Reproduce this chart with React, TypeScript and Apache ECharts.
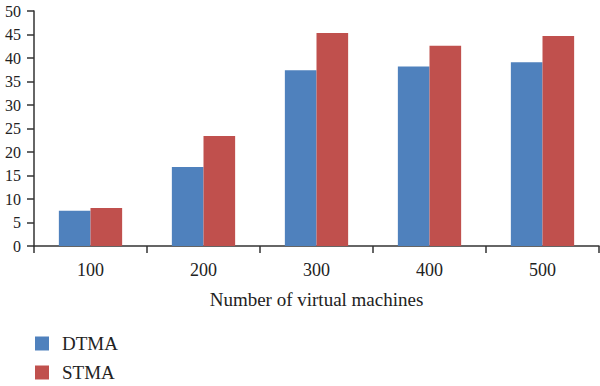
import React, { useEffect, useRef } from "react";
import * as echarts from "echarts";

const categories = ["100", "200", "300", "400", "500"];
const dtma = [7.5, 16.8, 37.4, 38.2, 39.1];
const stma = [8.1, 23.4, 45.3, 42.6, 44.7];
const seriesNames = ["DTMA", "STMA"];
const xAxisTitle = "Number of virtual machines";

const FONT = "Liberation Serif";

export default function App() {
  const ref = useRef<HTMLDivElement>(null);
  useEffect(() => {
    document.body.style.margin = "0";
    if (!ref.current) return;
    const chart = echarts.init(ref.current, null, { renderer: "svg" });
    chart.setOption({
      animation: false,
      textStyle: { fontFamily: FONT },
      grid: { left: 34, right: 1, top: 11, bottom: 140, containLabel: false },
      legend: {
        orient: "vertical",
        left: 35,
        top: 334,
        padding: 0,
        itemWidth: 14,
        itemHeight: 14,
        itemGap: 10,
        icon: "rect",
        textStyle: { fontFamily: FONT, fontSize: 19, color: "#222", padding: [0, 0, 0, 8] },
        data: seriesNames,
      },
      xAxis: {
        type: "category",
        data: categories,
        name: xAxisTitle,
        nameLocation: "middle",
        nameGap: 44,
        nameTextStyle: { fontFamily: FONT, fontSize: 19, color: "#222" },
        axisLine: { lineStyle: { color: "#333", width: 1.5 } },
        axisTick: { show: true, length: 7, lineStyle: { color: "#333", width: 1.5 } },
        axisLabel: { fontFamily: FONT, fontSize: 18, color: "#222", margin: 15 },
      },
      yAxis: {
        type: "value",
        min: 0,
        max: 50,
        interval: 5,
        splitLine: { show: false },
        axisLine: { show: true, lineStyle: { color: "#333", width: 1.5 } },
        axisTick: { show: true, length: 7, lineStyle: { color: "#333", width: 1.5 } },
        axisLabel: { fontFamily: FONT, fontSize: 16, color: "#222", margin: 13 },
      },
      series: [
        {
          name: seriesNames[0],
          type: "bar",
          data: dtma,
          barGap: "0%",
          barCategoryGap: "44%",
          itemStyle: { color: "#4F81BD" },
        },
        {
          name: seriesNames[1],
          type: "bar",
          data: stma,
          barGap: "0%",
          barCategoryGap: "44%",
          itemStyle: { color: "#C0504D" },
        },
      ],
    });
    return () => chart.dispose();
  }, []);
  return <div ref={ref} style={{ width: 600, height: 386 }} />;
}
